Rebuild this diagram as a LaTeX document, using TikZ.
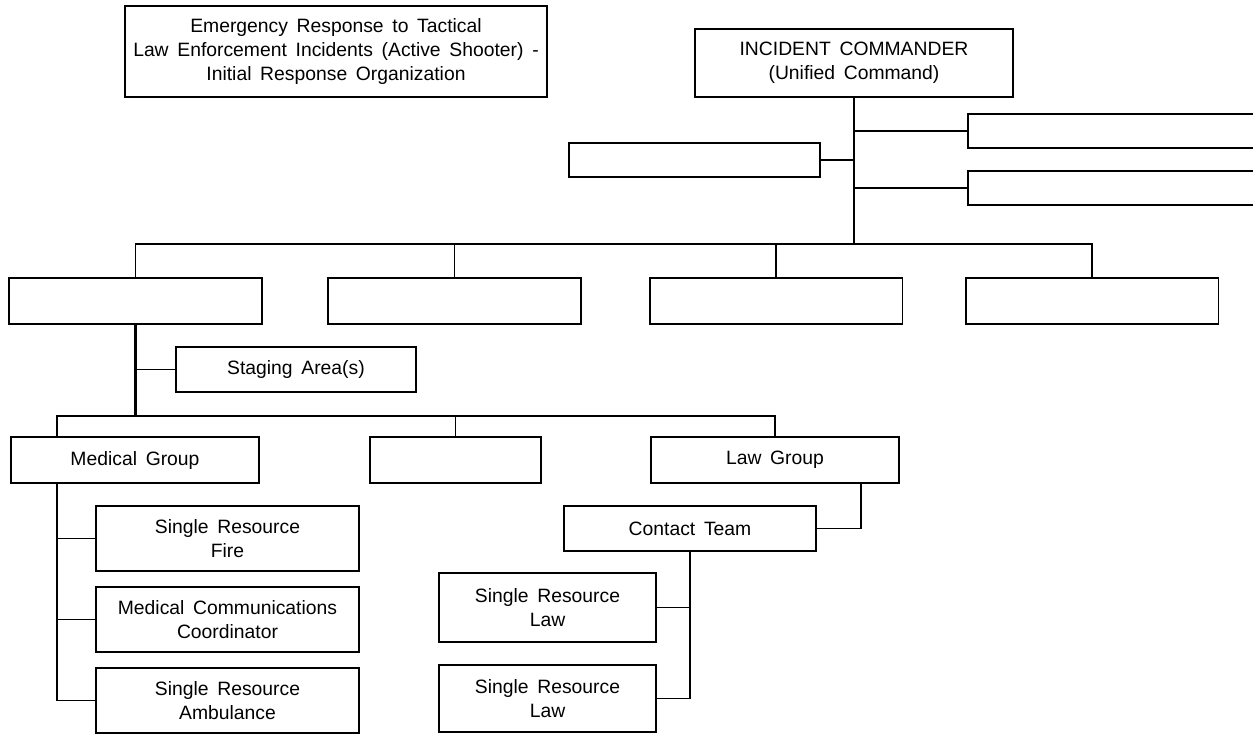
\documentclass[tikz,border=0pt]{standalone}
\usepackage{fontspec}
\setmainfont{Liberation Sans}
\usepackage{tikz}
\newcommand{\orgfont}{\fontsize{11}{13.4}\selectfont\spaceskip=0.45em plus 0.1em\relax}

\begin{document}
\begin{tikzpicture}[
  x=0.02cm,y=-0.02cm,
  box/.style={draw,line width=1.1pt,inner sep=0pt,align=center,
              font=\orgfont,fill=white},
  secbox/.style={box,minimum width=5.06cm,minimum height=0.92cm},
  grpbox/.style={box,minimum height=0.92cm},
  resbox/.style={box,minimum width=5.26cm,minimum height=1.3cm},
  con/.style={line width=1.1pt},
  spine/.style={line width=1.6pt}
]
\clip (0,0) rectangle (1253,734);

\node[box,minimum width=8.44cm,minimum height=1.82cm] (title) at (336,51.5)
  {Emergency Response to Tactical\\Law Enforcement Incidents (Active Shooter) -\\Initial Response Organization};
\node[box,minimum width=6.36cm,minimum height=1.36cm] (ic) at (854,63)
  {INCIDENT COMMANDER\\(Unified Command)};
\node[box,minimum width=8.0cm,minimum height=0.68cm] (rs1) at (1168,131) {};
\node[box,minimum width=8.0cm,minimum height=0.68cm] (rs2) at (1168,188) {};
\node[box,minimum width=5.02cm,minimum height=0.68cm] (ls) at (694.5,160) {};

\node[secbox] (sec1) at (135.5,301) {};
\node[secbox] (sec2) at (454.5,301) {};
\node[secbox] (sec3) at (776,301) {};
\node[secbox] (sec4) at (1092,301) {};

\node[box,minimum width=4.8cm,minimum height=0.9cm] (stg) at (296,369.5) {Staging Area(s)};

\node[grpbox,minimum width=4.96cm] (medg) at (135,460) {Medical Group};
\node[grpbox,minimum width=3.42cm] (mid) at (455.5,460) {};
\node[grpbox,minimum width=4.96cm] (lawg) at (775,460) {Law Group};

\node[resbox] (fire) at (227.5,538.5) {Single Resource\\Fire};
\node[resbox] (medcom) at (227.5,619.5) {Medical Communications\\Coordinator};
\node[resbox] (amb) at (227.5,700.5) {Single Resource\\Ambulance};

\node[box,minimum width=5.04cm,minimum height=0.9cm] (ct) at (690,528.5) {Contact Team};
\node[box,minimum width=4.34cm,minimum height=1.38cm] (law1) at (547.5,607.5) {Single Resource\\Law};
\node[box,minimum width=4.34cm,minimum height=1.34cm] (law2) at (547.5,698.5) {Single Resource\\Law};

\coordinate (busA) at (854,244);
\coordinate (busBl) at (57,416);
\coordinate (busBr) at (775,416);
\coordinate (lawdrop) at (861,483);

\draw[spine] (ic.south) -- (busA);
\draw[con] (rs1.west) -- (rs1.west -| ic.south);
\draw[con] (rs2.west) -- (rs2.west -| ic.south);
\draw[con] (ls.east) -- (ls.east -| ic.south);
\draw[con] (sec1.north) |- (busA) -| (sec4.north);
\draw[con] (sec2.north) -- (sec2.north |- busA);
\draw[con] (sec3.north) -- (sec3.north |- busA);

\draw[spine] (sec1.south) -- (sec1.south |- busBl);
\draw[con] (stg.west) -- (stg.west -| sec1.south);
\draw[con] (busBl |- medg.north) -- (busBl) -- (busBr) -- (lawg.north);
\draw[con] (mid.north) -- (mid.north |- busBl);

\draw[con] (busBl |- medg.south) |- (amb.west);
\draw[con] (fire.west) -- (fire.west -| busBl);
\draw[con] (medcom.west) -- (medcom.west -| busBl);

\draw[con] (lawdrop) |- (ct.east);
\draw[con] (ct.south) |- (law2.east);
\draw[con] (law1.east) -- (law1.east -| ct.south);
\end{tikzpicture}
\end{document}
